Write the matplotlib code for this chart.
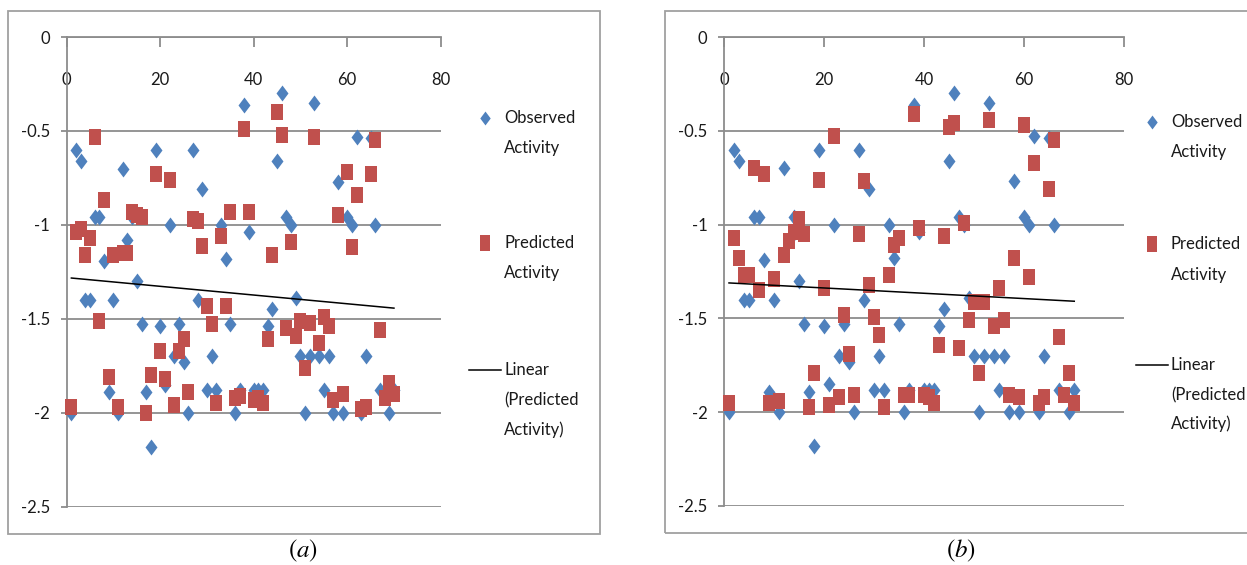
import numpy as np
import matplotlib
matplotlib.use('Agg')
import matplotlib.pyplot as plt
from matplotlib.lines import Line2D
from matplotlib.patches import Rectangle

plt.rcParams['font.family'] = ['Lato', 'DejaVu Sans']
plt.rcParams['mathtext.fontset'] = 'stix'
plt.rcParams['axes.unicode_minus'] = False

# observed activity (same in both panels), compound index -> value
obs_x = list(range(1, 68)) + [69, 70]
obs_y = [-2.00, -0.60, -0.66, -1.40, -1.40, -0.96, -0.96, -1.19, -1.89, -1.40,
         -2.00, -0.70, -1.08, -0.96, -1.30, -1.53, -1.89, -2.18, -0.60, -1.54,
         -1.85, -1.00, -1.70, -1.53, -1.73, -2.00, -0.60, -1.40, -0.81, -1.88,
         -1.70, -1.88, -1.00, -1.18, -1.53, -2.00, -1.88, -0.36, -1.04, -1.88,
         -1.88, -1.88, -1.54, -1.45, -0.66, -0.30, -0.96, -1.00, -1.39, -1.70,
         -2.00, -1.70, -0.35, -1.70, -1.88, -1.70, -2.00, -0.77, -2.00, -0.96,
         -1.00, -0.53, -2.00, -1.70, -0.54, -1.00, -1.88, -2.00, -1.88]

pred_x = list(range(1, 71))
pred_a = [-1.97, -1.04, -1.02, -1.16, -1.07, -0.53, -1.51, -0.87, -1.81, -1.16,
          -1.97, -1.15, -1.15, -0.93, -0.95, -0.96, -2.00, -1.80, -0.73, -1.67,
          -1.82, -0.76, -1.96, -1.67, -1.61, -1.89, -0.97, -0.98, -1.11, -1.43,
          -1.53, -1.95, -1.06, -1.43, -0.93, -1.92, -1.91, -0.49, -0.93, -1.93,
          -1.92, -1.95, -1.61, -1.16, -0.40, -0.52, -1.55, -1.09, -1.59, -1.51,
          -1.76, -1.52, -0.53, -1.63, -1.49, -1.54, -1.93, -0.95, -1.90, -0.72,
          -1.12, -0.84, -1.98, -1.97, -0.73, -0.55, -1.56, -1.92, -1.84, -1.90]
pred_b = [-1.95, -1.07, -1.18, -1.27, -1.27, -0.70, -1.35, -0.73, -1.95, -1.29,
          -1.94, -1.16, -1.09, -1.04, -0.97, -1.05, -1.97, -1.79, -0.76, -1.34,
          -1.96, -0.53, -1.92, -1.48, -1.69, -1.91, -1.05, -0.77, -1.32, -1.49,
          -1.59, -1.97, -1.27, -1.11, -1.07, -1.91, -1.91, -0.41, -1.02, -1.91,
          -1.92, -1.95, -1.64, -1.06, -0.48, -0.46, -1.66, -0.99, -1.51, -1.41,
          -1.79, -1.41, -0.44, -1.54, -1.34, -1.51, -1.91, -1.18, -1.92, -0.47,
          -1.28, -0.67, -1.95, -1.92, -0.81, -0.55, -1.60, -1.91, -1.79, -1.95]

x_ticks = [0, 20, 40, 60, 80]
y_ticks = [-2.5, -2, -1.5, -1, -0.5, 0]
y_ticklabels = ['-2.5', '-2', '-1.5', '-1', '-0.5', '0']

BLUE = '#4F81BD'
RED = '#C0504D'
GRID = '#8c8c8c'
FRAME = '#a0a0a0'
TXT = '#1a1a1a'
FS = 12

DIAMOND = [(0, 1), (0.75, 0), (0, -1), (-0.75, 0), (0, 1)]
SQUARE = [(-0.68, -1), (0.68, -1), (0.68, 1), (-0.68, 1), (-0.68, -1)]

W, H = 1247, 565
fig = plt.figure(figsize=(W / 100, H / 100), dpi=100)


def px_rect(x0, y0, x1, y1):
    return [x0 / W, 1 - y1 / H, (x1 - x0) / W, (y1 - y0) / H]


def panel(rect, pred, frame, leg, caption):
    # outer chart frame
    fig.patches.append(Rectangle((frame[0] / W, 1 - frame[3] / H),
                                 (frame[2] - frame[0]) / W, (frame[3] - frame[1]) / H,
                                 transform=fig.transFigure, fill=False,
                                 edgecolor=FRAME, lw=1.3))
    ax = fig.add_axes(px_rect(*rect))
    ax.set_xlim(0, 80)
    ax.set_ylim(-2.5, 0)
    for s in ['right', 'bottom']:
        ax.spines[s].set_visible(False)
    for s in ['left', 'top']:
        ax.spines[s].set_color(GRID)
        ax.spines[s].set_linewidth(1.3)
    ax.set_xticks(x_ticks)
    ax.set_yticks(y_ticks)
    ax.set_yticklabels(y_ticklabels)
    ax.tick_params(axis='x', top=True, bottom=False, labeltop=True, labelbottom=False,
                   direction='in', length=7, width=1.3, color=GRID, pad=-37,
                   labelsize=FS, labelcolor=TXT)
    ax.tick_params(axis='y', direction='out', length=4, width=1.3, color=GRID,
                   pad=8, labelsize=FS, labelcolor=TXT)
    ax.yaxis.grid(True, color=GRID, lw=1.3)
    ax.set_axisbelow(True)

    ax.plot(obs_x, obs_y, ls='none', marker=DIAMOND, ms=11.5, color=BLUE,
            mec=BLUE, mew=0, clip_on=False, zorder=3)
    ax.plot(pred_x, pred, ls='none', marker=SQUARE, ms=12.2, color=RED,
            mec=RED, mew=0, clip_on=False, zorder=4)
    k, b = np.polyfit(pred_x, pred, 1)
    xs = np.array([min(pred_x), max(pred_x)])
    ax.plot(xs, k * xs + b, color='black', lw=1.1, zorder=5)

    # legend, drawn in figure pixels
    mx, tx, ys = leg
    fig.add_artist(Line2D([mx / W], [1 - ys[0] / H], ls='none', marker=DIAMOND,
                          ms=10, color=BLUE, mew=0, transform=fig.transFigure))
    fig.add_artist(Line2D([mx / W], [1 - ys[2] / H], ls='none', marker=SQUARE,
                          ms=11.5, color=RED, mew=0, transform=fig.transFigure))
    fig.add_artist(Line2D([(mx - 16) / W, (mx + 16) / W], [1 - ys[4] / H] * 2,
                          color='black', lw=1.1, transform=fig.transFigure))
    lines = ['Observed', 'Activity', 'Predicted', 'Activity', 'Linear',
             '(Predicted', 'Activity)']
    for t, y in zip(lines, ys):
        fig.text(tx / W, 1 - y / H, t, ha='left', va='center', fontsize=FS, color=TXT)

    fig.text(caption[0] / W, 1 - caption[1] / H, caption[2], ha='center',
             va='center', fontsize=18, color='black')
    return ax


panel((66.7, 37, 440.7, 506.7), pred_a, (8, 11, 600, 534),
      (485, 504, [118, 148, 243, 273, 370, 400, 430]),
      (303, 551, r'$(\mathit{a})$'))
panel((724, 37, 1124.3, 506), pred_b, (665, 11, 1252, 533),
      (1152, 1171, [122, 152, 244, 275, 365, 395, 424]),
      (961, 551, r'$(\mathit{b})$'))

fig.savefig('out.png', dpi=100)
